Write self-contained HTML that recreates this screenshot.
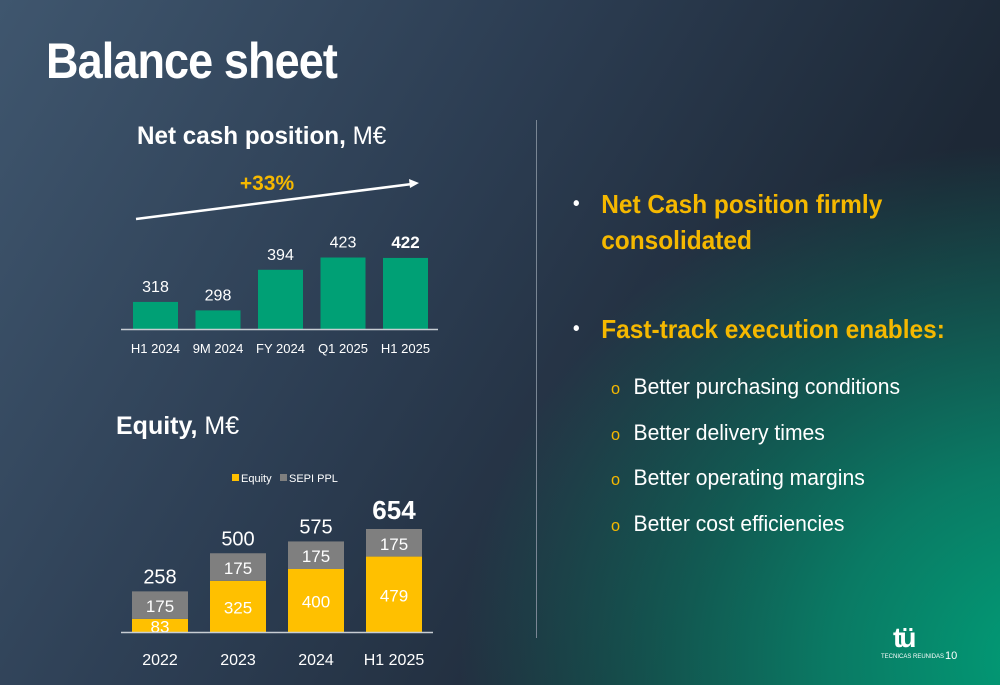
<!DOCTYPE html>
<html><head><meta charset="utf-8"><style>
html,body{margin:0;padding:0}
body{width:1000px;height:685px;overflow:hidden;position:relative;font-family:"Liberation Sans",sans-serif;
background:radial-gradient(ellipse 600px 520px at 1060px 660px,#00a078 0%,#0a7a64 38%,rgba(30,42,56,0) 100%),linear-gradient(120deg,#3f566e 0%,#2c3d52 40%,#1d2836 75%,#1a2531 100%);}
.t{position:absolute;color:#fff;white-space:nowrap}
.sb{height:45.5px;line-height:45.5px;overflow:visible}
</style></head><body>
<div class="t" style="left:46px;top:32px;font-size:50px;font-weight:bold;letter-spacing:-1px;transform:scaleX(0.9);transform-origin:left top">Balance sheet</div>
<div class="t" style="left:137px;top:122px;font-size:25px;transform:scaleX(0.97);transform-origin:left top"><b>Net cash position,</b> M€</div>
<div class="t" style="left:116px;top:412px;font-size:25px"><b>Equity,</b> M€</div>
<div style="position:absolute;left:536px;top:120px;width:1px;height:518px;background:#7a8694"></div>
<svg id="c" width="1000" height="685" style="position:absolute;left:0;top:0"></svg>
<div style="position:absolute;left:573px;top:186px;color:#f5b800;font-weight:bold;font-size:26px;line-height:36px;transform:scaleX(0.94);transform-origin:left top">
<div style="position:relative;padding-left:30px"><span style="position:absolute;left:0;color:#fff;font-size:20px">•</span>Net Cash position firmly<br>consolidated</div>
<div style="position:relative;padding-left:30px;margin-top:53px"><span style="position:absolute;left:0;color:#fff;font-size:20px">•</span>Fast-track execution enables:</div>
</div>
<div style="position:absolute;left:611px;top:364px;color:#fff;font-size:22px;transform:scaleX(0.96);transform-origin:left top">
<div class="sb"><span style="color:#f5b800;font-size:17px;margin-right:14px">o</span>Better purchasing conditions</div>
<div class="sb"><span style="color:#f5b800;font-size:17px;margin-right:14px">o</span>Better delivery times</div>
<div class="sb"><span style="color:#f5b800;font-size:17px;margin-right:14px">o</span>Better operating margins</div>
<div class="sb"><span style="color:#f5b800;font-size:17px;margin-right:14px">o</span>Better cost efficiencies</div>
</div>
<div class="t" style="left:893px;top:622px;font-size:28px;font-weight:bold;letter-spacing:-3px">tü</div>
<div class="t" style="left:881px;top:654px;font-size:6px">TECNICAS REUNIDAS</div>
<div class="t" style="left:945px;top:650px;font-size:11px">10</div>
<script>
const cashCats=["H1 2024","9M 2024","FY 2024","Q1 2025","H1 2025"];
const cashVals=[318,298,394,423,422];
const eqCats=["2022","2023","2024","H1 2025"];
const eqEquity=[83,325,400,479];
const eqSepi=[175,175,175,175];
const eqTotals=[258,500,575,654];
const svg=document.getElementById('c');const NS="http://www.w3.org/2000/svg";
function mk(t,a,txt){const e=document.createElementNS(NS,t);for(const k in a)e.setAttribute(k,a[k]);if(txt!==undefined)e.textContent=txt;svg.appendChild(e);return e;}
const cBase=329,cMin=254,cScale=0.423;
const cy=v=>cBase-(v-cMin)*cScale;
const cx=i=>133+i*62.5;
cashVals.forEach((v,i)=>{
 const r=mk('rect',{x:cx(i),y:cy(v),width:45,height:cBase-cy(v),fill:'#00a075'});
 
 
 const t=mk('text',{x:cx(i)+22.5,y:cy(v)-10,fill:'#fff','font-size':i==4?17:16,'font-weight':i==4?'bold':'normal','text-anchor':'middle'},v);
 
 
 const l=mk('text',{x:cx(i)+22.5,y:353,fill:'#fff','font-size':13,'text-anchor':'middle'},cashCats[i]);
 
 
});
mk('line',{x1:121,y1:329.5,x2:438,y2:329.5,stroke:'#c8cdd3','stroke-width':1.5});
mk('line',{x1:136,y1:219,x2:412,y2:184,stroke:'#fff','stroke-width':2.5});
mk('polygon',{points:'419,183 409,179 410,188',fill:'#fff'});
mk('text',{x:267,y:190,fill:'#f5b800','font-size':21,'font-weight':'bold','text-anchor':'middle'},'+33%');
const eBase=632,eScale=0.1575;
const ex=i=>132+i*78;
const eh=v=>v*eScale;
eqCats.forEach((c,i)=>{
 const h1=eh(eqEquity[i]),h2=eh(eqSepi[i]);
 const r1=mk('rect',{x:ex(i),y:eBase-h1,width:56,height:h1,fill:'#ffc000'});
 
 
 const r2=mk('rect',{x:ex(i),y:eBase-h1-h2,width:56,height:h2,fill:'#7f7f7f'});
 
 
 mk('text',{x:ex(i)+28,y:eBase-h1/2+7,fill:'#fff','font-size':17,'text-anchor':'middle'},eqEquity[i]);
 mk('text',{x:ex(i)+28,y:eBase-h1-h2/2+7,fill:'#fff','font-size':17,'text-anchor':'middle'},eqSepi[i]);
 const top=eBase-eh(eqTotals[i]);
 const t=mk('text',{x:ex(i)+28,y:top-(i==3?10:8),fill:'#fff','font-size':i==3?26:20,'font-weight':i==3?'bold':'normal','text-anchor':'middle'},eqTotals[i]);
 
 
 mk('text',{x:ex(i)+28,y:665,fill:'#fff','font-size':16,'text-anchor':'middle'},c);
});
mk('line',{x1:121,y1:632.5,x2:433,y2:632.5,stroke:'#c8cdd3','stroke-width':1.5});
mk('rect',{x:232,y:474,width:7,height:7,fill:'#ffc000'});
mk('text',{x:241,y:482,fill:'#fff','font-size':11},'Equity');
mk('rect',{x:280,y:474,width:7,height:7,fill:'#7f7f7f'});
mk('text',{x:289,y:482,fill:'#fff','font-size':11},'SEPI PPL');
</script>
</body></html>
